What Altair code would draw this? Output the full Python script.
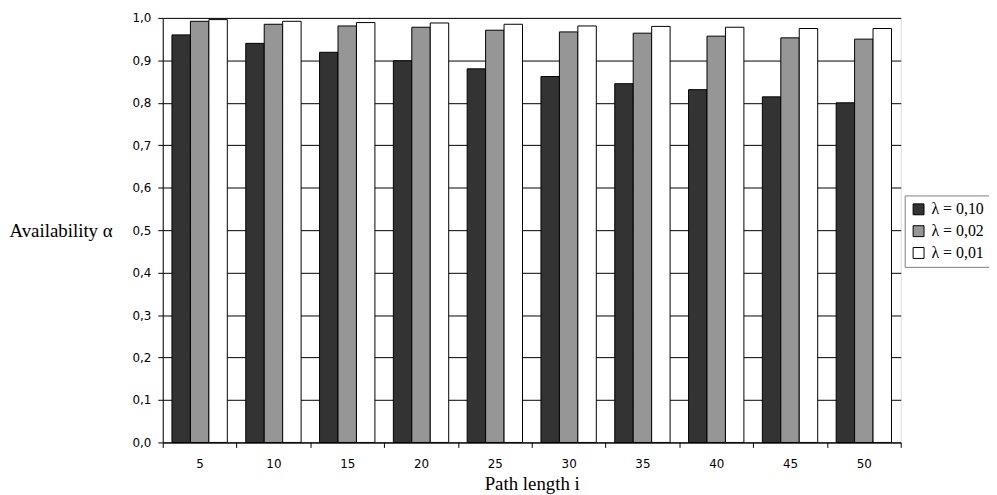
import altair as alt
import pandas as pd

path_lengths = [5, 10, 15, 20, 25, 30, 35, 40, 45, 50]
series_names = ["λ = 0,10", "λ = 0,02", "λ = 0,01"]
alpha_010 = [0.960, 0.940, 0.919, 0.899, 0.880, 0.862, 0.845, 0.831, 0.814, 0.800]
alpha_002 = [0.992, 0.985, 0.981, 0.978, 0.971, 0.967, 0.964, 0.957, 0.953, 0.950]
alpha_001 = [0.996, 0.992, 0.989, 0.988, 0.985, 0.981, 0.980, 0.978, 0.975, 0.975]
colors = ["#333333", "#969696", "#ffffff"]

rows = []
for name, vals in zip(series_names, [alpha_010, alpha_002, alpha_001]):
    for i, v in zip(path_lengths, vals):
        rows.append({"i": i, "series": name, "alpha": v})
df = pd.DataFrame(rows)

serif = "Liberation Serif"
sans = "DejaVu Sans"

chart = alt.Chart(df).mark_bar(stroke="black", strokeWidth=1).encode(
    x=alt.X("i:O", sort=path_lengths,
            scale=alt.Scale(paddingInner=0, paddingOuter=0),
            axis=alt.Axis(title="Path length i", labelAngle=0, tickBand="extent",
                          tickSize=5, tickColor="black", domainColor="black",
                          labelFont=sans, labelFontSize=12, labelColor="black",
                          labelPadding=11, titleFont=serif, titleFontSize=19,
                          titleFontWeight="normal", titleColor="black", titlePadding=5,
                          grid=False)),
    xOffset=alt.XOffset("series:N", sort=series_names,
                        scale=alt.Scale(paddingInner=0, paddingOuter=0.5)),
    y=alt.Y("alpha:Q", scale=alt.Scale(domain=[0, 1], nice=False),
            axis=alt.Axis(title="Availability α", values=[i / 10 for i in range(11)],
                          labelExpr="replace(format(datum.value, '.1f'), '.', ',')",
                          tickSize=5, tickColor="black", domainColor="black",
                          gridColor="black", gridOpacity=1, gridWidth=1,
                          labelFont=sans, labelFontSize=12, labelColor="black",
                          labelPadding=7, titleFont=serif, titleFontSize=19,
                          titleFontWeight="normal", titleColor="black",
                          titleAngle=0, titleAlign="left", titleBaseline="middle",
                          titleX=-155, titleY=214)),
    fill=alt.Fill("series:N", sort=series_names,
                  scale=alt.Scale(domain=series_names, range=colors),
                  legend=alt.Legend(title=None, orient="none", legendX=748, legendY=179,
                                    symbolType="square", symbolSize=121,
                                    symbolStrokeColor="black", symbolStrokeWidth=1,
                                    labelFont=serif, labelFontSize=16, labelColor="black",
                                    labelOffset=5, labelLimit=200, rowPadding=6, padding=6,
                                    strokeColor="#808080", fillColor="white")),
).properties(
    width=744, height=428,
    autosize=alt.AutoSizeParams(type="none"),
    padding={"left": 156, "top": 8, "right": 89, "bottom": 50},
).configure_view(stroke="#808080", strokeWidth=1.5).configure(background="white")

chart.save("out.html", embed_options={"renderer": "svg", "actions": False})
